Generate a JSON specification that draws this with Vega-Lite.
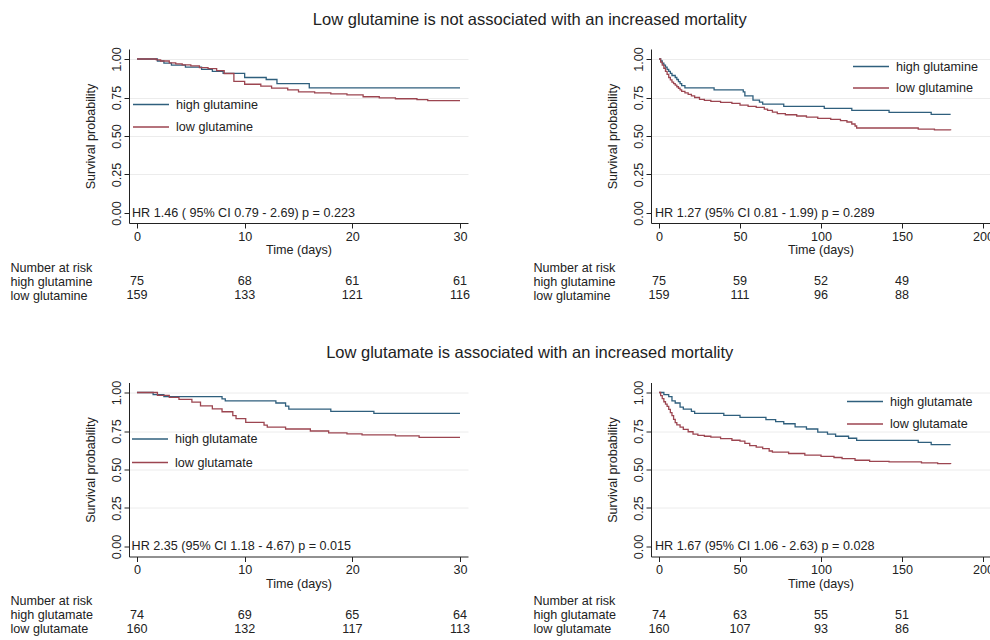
{
  "$schema": "https://vega.github.io/schema/vega-lite/v6.json",
  "autosize": {"type": "pad"},
  "padding": {"left": 10, "top": 11, "right": -4, "bottom": 4},
  "background": "white",
  "datasets": {
    "tl": [
      {"t": 0, "s": 1.0, "g": "high glutamine"}, {"t": 1.9, "s": 0.987, "g": "high glutamine"}, {"t": 2.5, "s": 0.973, "g": "high glutamine"}, {"t": 3.2, "s": 0.96, "g": "high glutamine"}, {"t": 4.5, "s": 0.947, "g": "high glutamine"}, {"t": 6.0, "s": 0.933, "g": "high glutamine"}, {"t": 7.0, "s": 0.92, "g": "high glutamine"}, {"t": 8.0, "s": 0.907, "g": "high glutamine"}, {"t": 10.0, "s": 0.88, "g": "high glutamine"}, {"t": 12.0, "s": 0.867, "g": "high glutamine"}, {"t": 13.0, "s": 0.84, "g": "high glutamine"}, {"t": 16.0, "s": 0.813, "g": "high glutamine"}, {"t": 30, "s": 0.813, "g": "high glutamine"},
      {"t": 0, "s": 1.0, "g": "low glutamine"}, {"t": 1.8, "s": 0.994, "g": "low glutamine"}, {"t": 2.2, "s": 0.987, "g": "low glutamine"}, {"t": 3.0, "s": 0.975, "g": "low glutamine"}, {"t": 3.6, "s": 0.969, "g": "low glutamine"}, {"t": 4.2, "s": 0.962, "g": "low glutamine"}, {"t": 5.0, "s": 0.956, "g": "low glutamine"}, {"t": 5.8, "s": 0.944, "g": "low glutamine"}, {"t": 6.6, "s": 0.937, "g": "low glutamine"}, {"t": 7.4, "s": 0.925, "g": "low glutamine"}, {"t": 8.1, "s": 0.906, "g": "low glutamine"}, {"t": 9.0, "s": 0.855, "g": "low glutamine"}, {"t": 10.0, "s": 0.836, "g": "low glutamine"}, {"t": 11.5, "s": 0.824, "g": "low glutamine"}, {"t": 12.5, "s": 0.811, "g": "low glutamine"}, {"t": 14.0, "s": 0.799, "g": "low glutamine"}, {"t": 15.0, "s": 0.786, "g": "low glutamine"}, {"t": 16.5, "s": 0.78, "g": "low glutamine"}, {"t": 18.0, "s": 0.774, "g": "low glutamine"}, {"t": 19.5, "s": 0.767, "g": "low glutamine"}, {"t": 21.0, "s": 0.755, "g": "low glutamine"}, {"t": 22.5, "s": 0.748, "g": "low glutamine"}, {"t": 24.0, "s": 0.742, "g": "low glutamine"}, {"t": 26.0, "s": 0.736, "g": "low glutamine"}, {"t": 27.0, "s": 0.73, "g": "low glutamine"}, {"t": 30, "s": 0.73, "g": "low glutamine"}
    ],
    "tr": [
      {"t": 0, "s": 1.0, "g": "high glutamine"}, {"t": 1, "s": 0.987, "g": "high glutamine"}, {"t": 2, "s": 0.973, "g": "high glutamine"}, {"t": 3, "s": 0.96, "g": "high glutamine"}, {"t": 4, "s": 0.947, "g": "high glutamine"}, {"t": 5, "s": 0.933, "g": "high glutamine"}, {"t": 6, "s": 0.92, "g": "high glutamine"}, {"t": 7, "s": 0.907, "g": "high glutamine"}, {"t": 8, "s": 0.893, "g": "high glutamine"}, {"t": 10, "s": 0.88, "g": "high glutamine"}, {"t": 11, "s": 0.867, "g": "high glutamine"}, {"t": 12, "s": 0.853, "g": "high glutamine"}, {"t": 13, "s": 0.84, "g": "high glutamine"}, {"t": 14, "s": 0.827, "g": "high glutamine"}, {"t": 16, "s": 0.813, "g": "high glutamine"}, {"t": 34, "s": 0.8, "g": "high glutamine"}, {"t": 52, "s": 0.787, "g": "high glutamine"}, {"t": 53, "s": 0.76, "g": "high glutamine"}, {"t": 58, "s": 0.733, "g": "high glutamine"}, {"t": 62, "s": 0.72, "g": "high glutamine"}, {"t": 64, "s": 0.707, "g": "high glutamine"}, {"t": 77, "s": 0.693, "g": "high glutamine"}, {"t": 102, "s": 0.68, "g": "high glutamine"}, {"t": 119, "s": 0.667, "g": "high glutamine"}, {"t": 142, "s": 0.653, "g": "high glutamine"}, {"t": 168, "s": 0.64, "g": "high glutamine"}, {"t": 180, "s": 0.64, "g": "high glutamine"},
      {"t": 0, "s": 1.0, "g": "low glutamine"}, {"t": 1, "s": 0.98, "g": "low glutamine"}, {"t": 2, "s": 0.96, "g": "low glutamine"}, {"t": 3, "s": 0.94, "g": "low glutamine"}, {"t": 4, "s": 0.92, "g": "low glutamine"}, {"t": 5, "s": 0.9, "g": "low glutamine"}, {"t": 6, "s": 0.88, "g": "low glutamine"}, {"t": 7, "s": 0.865, "g": "low glutamine"}, {"t": 8, "s": 0.85, "g": "low glutamine"}, {"t": 9, "s": 0.84, "g": "low glutamine"}, {"t": 10, "s": 0.83, "g": "low glutamine"}, {"t": 11, "s": 0.82, "g": "low glutamine"}, {"t": 12, "s": 0.81, "g": "low glutamine"}, {"t": 13, "s": 0.8, "g": "low glutamine"}, {"t": 14, "s": 0.79, "g": "low glutamine"}, {"t": 16, "s": 0.78, "g": "low glutamine"}, {"t": 18, "s": 0.77, "g": "low glutamine"}, {"t": 20, "s": 0.76, "g": "low glutamine"}, {"t": 22, "s": 0.75, "g": "low glutamine"}, {"t": 25, "s": 0.738, "g": "low glutamine"}, {"t": 28, "s": 0.731, "g": "low glutamine"}, {"t": 32, "s": 0.725, "g": "low glutamine"}, {"t": 38, "s": 0.718, "g": "low glutamine"}, {"t": 45, "s": 0.712, "g": "low glutamine"}, {"t": 50, "s": 0.7, "g": "low glutamine"}, {"t": 55, "s": 0.693, "g": "low glutamine"}, {"t": 60, "s": 0.686, "g": "low glutamine"}, {"t": 65, "s": 0.675, "g": "low glutamine"}, {"t": 67, "s": 0.667, "g": "low glutamine"}, {"t": 70, "s": 0.655, "g": "low glutamine"}, {"t": 73, "s": 0.645, "g": "low glutamine"}, {"t": 78, "s": 0.638, "g": "low glutamine"}, {"t": 85, "s": 0.63, "g": "low glutamine"}, {"t": 91, "s": 0.623, "g": "low glutamine"}, {"t": 98, "s": 0.615, "g": "low glutamine"}, {"t": 106, "s": 0.608, "g": "low glutamine"}, {"t": 112, "s": 0.6, "g": "low glutamine"}, {"t": 116, "s": 0.591, "g": "low glutamine"}, {"t": 119, "s": 0.578, "g": "low glutamine"}, {"t": 121, "s": 0.565, "g": "low glutamine"}, {"t": 122, "s": 0.552, "g": "low glutamine"}, {"t": 160, "s": 0.545, "g": "low glutamine"}, {"t": 170, "s": 0.54, "g": "low glutamine"}, {"t": 180, "s": 0.537, "g": "low glutamine"}
    ],
    "bl": [
      {"t": 0, "s": 1.0, "g": "high glutamate"}, {"t": 1.5, "s": 0.986, "g": "high glutamate"}, {"t": 2.5, "s": 0.973, "g": "high glutamate"}, {"t": 7.9, "s": 0.959, "g": "high glutamate"}, {"t": 8.2, "s": 0.946, "g": "high glutamate"}, {"t": 12.9, "s": 0.932, "g": "high glutamate"}, {"t": 13.8, "s": 0.912, "g": "high glutamate"}, {"t": 14.1, "s": 0.892, "g": "high glutamate"}, {"t": 18.0, "s": 0.878, "g": "high glutamate"}, {"t": 22.0, "s": 0.865, "g": "high glutamate"}, {"t": 30, "s": 0.865, "g": "high glutamate"},
      {"t": 0, "s": 1.0, "g": "low glutamate"}, {"t": 1.9, "s": 0.981, "g": "low glutamate"}, {"t": 3.0, "s": 0.969, "g": "low glutamate"}, {"t": 3.9, "s": 0.956, "g": "low glutamate"}, {"t": 5.1, "s": 0.938, "g": "low glutamate"}, {"t": 5.9, "s": 0.913, "g": "low glutamate"}, {"t": 7.0, "s": 0.894, "g": "low glutamate"}, {"t": 7.9, "s": 0.875, "g": "low glutamate"}, {"t": 8.9, "s": 0.85, "g": "low glutamate"}, {"t": 9.2, "s": 0.831, "g": "low glutamate"}, {"t": 10.1, "s": 0.806, "g": "low glutamate"}, {"t": 11.8, "s": 0.788, "g": "low glutamate"}, {"t": 12.1, "s": 0.775, "g": "low glutamate"}, {"t": 13.8, "s": 0.763, "g": "low glutamate"}, {"t": 16.1, "s": 0.75, "g": "low glutamate"}, {"t": 17.8, "s": 0.738, "g": "low glutamate"}, {"t": 19.5, "s": 0.731, "g": "low glutamate"}, {"t": 20.9, "s": 0.725, "g": "low glutamate"}, {"t": 24.0, "s": 0.719, "g": "low glutamate"}, {"t": 26.2, "s": 0.708, "g": "low glutamate"}, {"t": 30, "s": 0.708, "g": "low glutamate"}
    ],
    "br": [
      {"t": 0, "s": 1.0, "g": "high glutamate"}, {"t": 3, "s": 0.986, "g": "high glutamate"}, {"t": 6, "s": 0.973, "g": "high glutamate"}, {"t": 8, "s": 0.946, "g": "high glutamate"}, {"t": 10, "s": 0.932, "g": "high glutamate"}, {"t": 13, "s": 0.905, "g": "high glutamate"}, {"t": 15, "s": 0.892, "g": "high glutamate"}, {"t": 20, "s": 0.878, "g": "high glutamate"}, {"t": 22, "s": 0.865, "g": "high glutamate"}, {"t": 40, "s": 0.851, "g": "high glutamate"}, {"t": 50, "s": 0.838, "g": "high glutamate"}, {"t": 66, "s": 0.824, "g": "high glutamate"}, {"t": 72, "s": 0.811, "g": "high glutamate"}, {"t": 77, "s": 0.797, "g": "high glutamate"}, {"t": 84, "s": 0.777, "g": "high glutamate"}, {"t": 91, "s": 0.763, "g": "high glutamate"}, {"t": 98, "s": 0.743, "g": "high glutamate"}, {"t": 104, "s": 0.73, "g": "high glutamate"}, {"t": 109, "s": 0.716, "g": "high glutamate"}, {"t": 117, "s": 0.703, "g": "high glutamate"}, {"t": 122, "s": 0.689, "g": "high glutamate"}, {"t": 160, "s": 0.676, "g": "high glutamate"}, {"t": 168, "s": 0.662, "g": "high glutamate"}, {"t": 180, "s": 0.662, "g": "high glutamate"},
      {"t": 0, "s": 1.0, "g": "low glutamate"}, {"t": 1, "s": 0.98, "g": "low glutamate"}, {"t": 2, "s": 0.96, "g": "low glutamate"}, {"t": 3, "s": 0.94, "g": "low glutamate"}, {"t": 4, "s": 0.925, "g": "low glutamate"}, {"t": 5, "s": 0.91, "g": "low glutamate"}, {"t": 6, "s": 0.89, "g": "low glutamate"}, {"t": 7, "s": 0.87, "g": "low glutamate"}, {"t": 8, "s": 0.85, "g": "low glutamate"}, {"t": 9, "s": 0.825, "g": "low glutamate"}, {"t": 10, "s": 0.805, "g": "low glutamate"}, {"t": 11, "s": 0.79, "g": "low glutamate"}, {"t": 13, "s": 0.775, "g": "low glutamate"}, {"t": 15, "s": 0.76, "g": "low glutamate"}, {"t": 18, "s": 0.745, "g": "low glutamate"}, {"t": 21, "s": 0.73, "g": "low glutamate"}, {"t": 24, "s": 0.722, "g": "low glutamate"}, {"t": 28, "s": 0.716, "g": "low glutamate"}, {"t": 32, "s": 0.71, "g": "low glutamate"}, {"t": 38, "s": 0.7, "g": "low glutamate"}, {"t": 45, "s": 0.69, "g": "low glutamate"}, {"t": 50, "s": 0.684, "g": "low glutamate"}, {"t": 53, "s": 0.67, "g": "low glutamate"}, {"t": 56, "s": 0.655, "g": "low glutamate"}, {"t": 60, "s": 0.645, "g": "low glutamate"}, {"t": 64, "s": 0.635, "g": "low glutamate"}, {"t": 68, "s": 0.62, "g": "low glutamate"}, {"t": 70, "s": 0.613, "g": "low glutamate"}, {"t": 80, "s": 0.604, "g": "low glutamate"}, {"t": 90, "s": 0.594, "g": "low glutamate"}, {"t": 100, "s": 0.585, "g": "low glutamate"}, {"t": 108, "s": 0.578, "g": "low glutamate"}, {"t": 113, "s": 0.57, "g": "low glutamate"}, {"t": 121, "s": 0.56, "g": "low glutamate"}, {"t": 130, "s": 0.553, "g": "low glutamate"}, {"t": 142, "s": 0.549, "g": "low glutamate"}, {"t": 162, "s": 0.543, "g": "low glutamate"}, {"t": 172, "s": 0.538, "g": "low glutamate"}, {"t": 180, "s": 0.535, "g": "low glutamate"}
    ],
    "notes": [
      {"panel": "tl", "t": -0.46, "s": 0, "note": "HR 1.46 ( 95% CI 0.79 - 2.69) p = 0.223"},
      {"panel": "tr", "t": -2.5, "s": 0, "note": "HR 1.27 (95% CI 0.81 - 1.99) p = 0.289"},
      {"panel": "bl", "t": -0.5, "s": 0, "note": "HR 2.35 (95% CI 1.18 - 4.67) p = 0.015"},
      {"panel": "br", "t": -2.5, "s": 0, "note": "HR 1.67 (95% CI 1.06 - 2.63) p = 0.028"}
    ],
    "risk": [
      {"panel": "tl", "t": 0, "row": "high glutamine", "n": 75}, {"panel": "tl", "t": 10, "row": "high glutamine", "n": 68}, {"panel": "tl", "t": 20, "row": "high glutamine", "n": 61}, {"panel": "tl", "t": 30, "row": "high glutamine", "n": 61},
      {"panel": "tl", "t": 0, "row": "low glutamine", "n": 159}, {"panel": "tl", "t": 10, "row": "low glutamine", "n": 133}, {"panel": "tl", "t": 20, "row": "low glutamine", "n": 121}, {"panel": "tl", "t": 30, "row": "low glutamine", "n": 116},
      {"panel": "tr", "t": 0, "row": "high glutamine", "n": 75}, {"panel": "tr", "t": 50, "row": "high glutamine", "n": 59}, {"panel": "tr", "t": 100, "row": "high glutamine", "n": 52}, {"panel": "tr", "t": 150, "row": "high glutamine", "n": 49},
      {"panel": "tr", "t": 0, "row": "low glutamine", "n": 159}, {"panel": "tr", "t": 50, "row": "low glutamine", "n": 111}, {"panel": "tr", "t": 100, "row": "low glutamine", "n": 96}, {"panel": "tr", "t": 150, "row": "low glutamine", "n": 88},
      {"panel": "bl", "t": 0, "row": "high glutamate", "n": 74}, {"panel": "bl", "t": 10, "row": "high glutamate", "n": 69}, {"panel": "bl", "t": 20, "row": "high glutamate", "n": 65}, {"panel": "bl", "t": 30, "row": "high glutamate", "n": 64},
      {"panel": "bl", "t": 0, "row": "low glutamate", "n": 160}, {"panel": "bl", "t": 10, "row": "low glutamate", "n": 132}, {"panel": "bl", "t": 20, "row": "low glutamate", "n": 117}, {"panel": "bl", "t": 30, "row": "low glutamate", "n": 113},
      {"panel": "br", "t": 0, "row": "high glutamate", "n": 74}, {"panel": "br", "t": 50, "row": "high glutamate", "n": 63}, {"panel": "br", "t": 100, "row": "high glutamate", "n": 55}, {"panel": "br", "t": 150, "row": "high glutamate", "n": 51},
      {"panel": "br", "t": 0, "row": "low glutamate", "n": 160}, {"panel": "br", "t": 50, "row": "low glutamate", "n": 107}, {"panel": "br", "t": 100, "row": "low glutamate", "n": 93}, {"panel": "br", "t": 150, "row": "low glutamate", "n": 86}
    ]
  },
  "vconcat": [
    {
      "title": {"text": "Low glutamine is not associated with an increased mortality", "anchor": "middle", "dx": 28, "offset": 18.5},
      "columns": 2,
      "spacing": {"row": 3, "column": 62},
      "resolve": {"scale": {"color": "independent", "x": "independent", "y": "independent"}, "legend": {"color": "independent"}},
      "concat": [
        {
          "width": 339, "height": 174,
          "layer": [
            {
              "data": {"name": "tl"},
              "mark": {"type": "line", "interpolate": "step-after", "strokeWidth": 1.3},
              "encoding": {
                "x": {"field": "t", "type": "quantitative", "scale": {"domain": [-0.74, 30.74], "nice": false, "zero": false}, "axis": {"values": [0, 10, 20, 30], "title": "Time (days)"}},
                "y": {"field": "s", "type": "quantitative", "scale": {"domain": [-0.065, 1.065], "nice": false, "zero": false}, "axis": {"values": [0, 0.25, 0.5, 0.75, 1], "format": ".2f", "title": "Survival probability", "gridOpacity": {"condition": {"test": "datum.value === 0", "value": 0}, "value": 1}}},
                "color": {"field": "g", "type": "nominal", "scale": {"domain": ["high glutamine", "low glutamine"], "range": ["#2f5f7d", "#9c4550"]}, "legend": {"title": null, "orient": "none", "legendX": 3, "legendY": 48.5, "symbolType": "M-1,0H5", "symbolSize": 144, "symbolStrokeWidth": 1.5, "labelOffset": 30, "rowPadding": 8.5}}
              }
            },
            {
              "data": {"name": "notes"},
              "transform": [{"filter": "datum.panel === 'tl'"}],
              "mark": {"type": "text", "align": "left", "baseline": "middle", "fontSize": 12.6},
              "encoding": {"x": {"field": "t", "type": "quantitative"}, "y": {"field": "s", "type": "quantitative"}, "text": {"field": "note"}}
            }
          ]
        },
        {
          "width": 339, "height": 174,
          "layer": [
            {
              "data": {"name": "tr"},
              "mark": {"type": "line", "interpolate": "step-after", "strokeWidth": 1.3},
              "encoding": {
                "x": {"field": "t", "type": "quantitative", "scale": {"domain": [-4.94, 204.3], "nice": false, "zero": false}, "axis": {"values": [0, 50, 100, 150, 200], "title": "Time (days)"}},
                "y": {"field": "s", "type": "quantitative", "scale": {"domain": [-0.065, 1.065], "nice": false, "zero": false}, "axis": {"values": [0, 0.25, 0.5, 0.75, 1], "format": ".2f", "title": "Survival probability", "gridOpacity": {"condition": {"test": "datum.value === 0", "value": 0}, "value": 1}}},
                "color": {"field": "g", "type": "nominal", "scale": {"domain": ["high glutamine", "low glutamine"], "range": ["#2f5f7d", "#9c4550"]}, "legend": {"title": null, "orient": "none", "legendX": 201, "legendY": 10.5, "symbolType": "M-1,0H5", "symbolSize": 144, "symbolStrokeWidth": 1.5, "labelOffset": 30, "rowPadding": 7.5}}
              }
            },
            {
              "data": {"name": "notes"},
              "transform": [{"filter": "datum.panel === 'tr'"}],
              "mark": {"type": "text", "align": "left", "baseline": "middle", "fontSize": 12.6},
              "encoding": {"x": {"field": "t", "type": "quantitative"}, "y": {"field": "s", "type": "quantitative"}, "text": {"field": "note"}}
            }
          ]
        },
        {
          "width": 339, "height": 42,
          "data": {"name": "risk"},
          "transform": [{"filter": "datum.panel === 'tl'"}],
          "mark": {"type": "text", "fontSize": 12.6, "baseline": "middle", "align": "center"},
          "encoding": {
            "x": {"field": "t", "type": "quantitative", "scale": {"domain": [-0.74, 30.74], "nice": false, "zero": false}, "axis": null},
            "y": {"field": "row", "type": "nominal", "scale": {"domain": ["Number at risk", "high glutamine", "low glutamine"], "padding": 0.5}, "axis": {"title": null, "domain": false, "ticks": false, "grid": false, "labelAngle": 0, "labelAlign": "left", "labelBaseline": "middle", "labelPadding": 119}},
            "text": {"field": "n", "type": "quantitative"}
          }
        },
        {
          "width": 339, "height": 42,
          "data": {"name": "risk"},
          "transform": [{"filter": "datum.panel === 'tr'"}],
          "mark": {"type": "text", "fontSize": 12.6, "baseline": "middle", "align": "center"},
          "encoding": {
            "x": {"field": "t", "type": "quantitative", "scale": {"domain": [-4.94, 204.3], "nice": false, "zero": false}, "axis": null},
            "y": {"field": "row", "type": "nominal", "scale": {"domain": ["Number at risk", "high glutamine", "low glutamine"], "padding": 0.5}, "axis": {"title": null, "domain": false, "ticks": false, "grid": false, "labelAngle": 0, "labelAlign": "left", "labelBaseline": "middle", "labelPadding": 118}},
            "text": {"field": "n", "type": "quantitative"}
          }
        }
      ]
    },
    {
      "title": {"text": "Low glutamate is associated with an increased mortality", "anchor": "middle", "dx": 28, "offset": 18.5},
      "columns": 2,
      "spacing": {"row": 3, "column": 62},
      "resolve": {"scale": {"color": "independent", "x": "independent", "y": "independent"}, "legend": {"color": "independent"}},
      "concat": [
        {
          "width": 339, "height": 174,
          "layer": [
            {
              "data": {"name": "bl"},
              "mark": {"type": "line", "interpolate": "step-after", "strokeWidth": 1.3},
              "encoding": {
                "x": {"field": "t", "type": "quantitative", "scale": {"domain": [-0.74, 30.74], "nice": false, "zero": false}, "axis": {"values": [0, 10, 20, 30], "title": "Time (days)"}},
                "y": {"field": "s", "type": "quantitative", "scale": {"domain": [-0.065, 1.065], "nice": false, "zero": false}, "axis": {"values": [0, 0.25, 0.5, 0.75, 1], "format": ".2f", "title": "Survival probability", "gridOpacity": {"condition": {"test": "datum.value === 0", "value": 0}, "value": 1}}},
                "color": {"field": "g", "type": "nominal", "scale": {"domain": ["high glutamate", "low glutamate"], "range": ["#2f5f7d", "#9c4550"]}, "legend": {"title": null, "orient": "none", "legendX": 2, "legendY": 49.5, "symbolType": "M-1,0H5", "symbolSize": 144, "symbolStrokeWidth": 1.5, "labelOffset": 30, "rowPadding": 9.5}}
              }
            },
            {
              "data": {"name": "notes"},
              "transform": [{"filter": "datum.panel === 'bl'"}],
              "mark": {"type": "text", "align": "left", "baseline": "middle", "fontSize": 12.6},
              "encoding": {"x": {"field": "t", "type": "quantitative"}, "y": {"field": "s", "type": "quantitative"}, "text": {"field": "note"}}
            }
          ]
        },
        {
          "width": 339, "height": 174,
          "layer": [
            {
              "data": {"name": "br"},
              "mark": {"type": "line", "interpolate": "step-after", "strokeWidth": 1.3},
              "encoding": {
                "x": {"field": "t", "type": "quantitative", "scale": {"domain": [-4.94, 204.3], "nice": false, "zero": false}, "axis": {"values": [0, 50, 100, 150, 200], "title": "Time (days)"}},
                "y": {"field": "s", "type": "quantitative", "scale": {"domain": [-0.065, 1.065], "nice": false, "zero": false}, "axis": {"values": [0, 0.25, 0.5, 0.75, 1], "format": ".2f", "title": "Survival probability", "gridOpacity": {"condition": {"test": "datum.value === 0", "value": 0}, "value": 1}}},
                "color": {"field": "g", "type": "nominal", "scale": {"domain": ["high glutamate", "low glutamate"], "range": ["#2f5f7d", "#9c4550"]}, "legend": {"title": null, "orient": "none", "legendX": 195, "legendY": 12, "symbolType": "M-1,0H5", "symbolSize": 144, "symbolStrokeWidth": 1.5, "labelOffset": 30, "rowPadding": 8.5}}
              }
            },
            {
              "data": {"name": "notes"},
              "transform": [{"filter": "datum.panel === 'br'"}],
              "mark": {"type": "text", "align": "left", "baseline": "middle", "fontSize": 12.6},
              "encoding": {"x": {"field": "t", "type": "quantitative"}, "y": {"field": "s", "type": "quantitative"}, "text": {"field": "note"}}
            }
          ]
        },
        {
          "width": 339, "height": 42,
          "data": {"name": "risk"},
          "transform": [{"filter": "datum.panel === 'bl'"}],
          "mark": {"type": "text", "fontSize": 12.6, "baseline": "middle", "align": "center"},
          "encoding": {
            "x": {"field": "t", "type": "quantitative", "scale": {"domain": [-0.74, 30.74], "nice": false, "zero": false}, "axis": null},
            "y": {"field": "row", "type": "nominal", "scale": {"domain": ["Number at risk", "high glutamate", "low glutamate"], "padding": 0.5}, "axis": {"title": null, "domain": false, "ticks": false, "grid": false, "labelAngle": 0, "labelAlign": "left", "labelBaseline": "middle", "labelPadding": 119}},
            "text": {"field": "n", "type": "quantitative"}
          }
        },
        {
          "width": 339, "height": 42,
          "data": {"name": "risk"},
          "transform": [{"filter": "datum.panel === 'br'"}],
          "mark": {"type": "text", "fontSize": 12.6, "baseline": "middle", "align": "center"},
          "encoding": {
            "x": {"field": "t", "type": "quantitative", "scale": {"domain": [-4.94, 204.3], "nice": false, "zero": false}, "axis": null},
            "y": {"field": "row", "type": "nominal", "scale": {"domain": ["Number at risk", "high glutamate", "low glutamate"], "padding": 0.5}, "axis": {"title": null, "domain": false, "ticks": false, "grid": false, "labelAngle": 0, "labelAlign": "left", "labelBaseline": "middle", "labelPadding": 118}},
            "text": {"field": "n", "type": "quantitative"}
          }
        }
      ]
    }
  ],
  "spacing": 42.5,
  "resolve": {"scale": {"color": "independent"}, "legend": {"color": "independent"}},
  "config": {
    "font": "Liberation Sans",
    "view": {"stroke": null},
    "axis": {"domainColor": "#222", "tickColor": "#222", "labelColor": "#222", "titleColor": "#222", "labelFontSize": 12.6, "titleFontSize": 12.6, "titleFontWeight": "normal", "tickSize": 5, "gridColor": "#ececec", "labelFont": "Liberation Sans", "titleFont": "Liberation Sans"},
    "axisX": {"labelPadding": 2, "titlePadding": 1, "grid": false},
    "axisY": {"labelAngle": 270, "labelAlign": "center", "labelBaseline": "alphabetic", "labelPadding": 4, "titlePadding": 13, "grid": true},
    "legend": {"labelFontSize": 12.6, "labelColor": "#222", "labelFont": "Liberation Sans", "padding": 0},
    "title": {"fontSize": 16.5, "fontWeight": "normal", "color": "#222", "font": "Liberation Sans"},
    "text": {"font": "Liberation Sans", "color": "#222"}
  }
}
